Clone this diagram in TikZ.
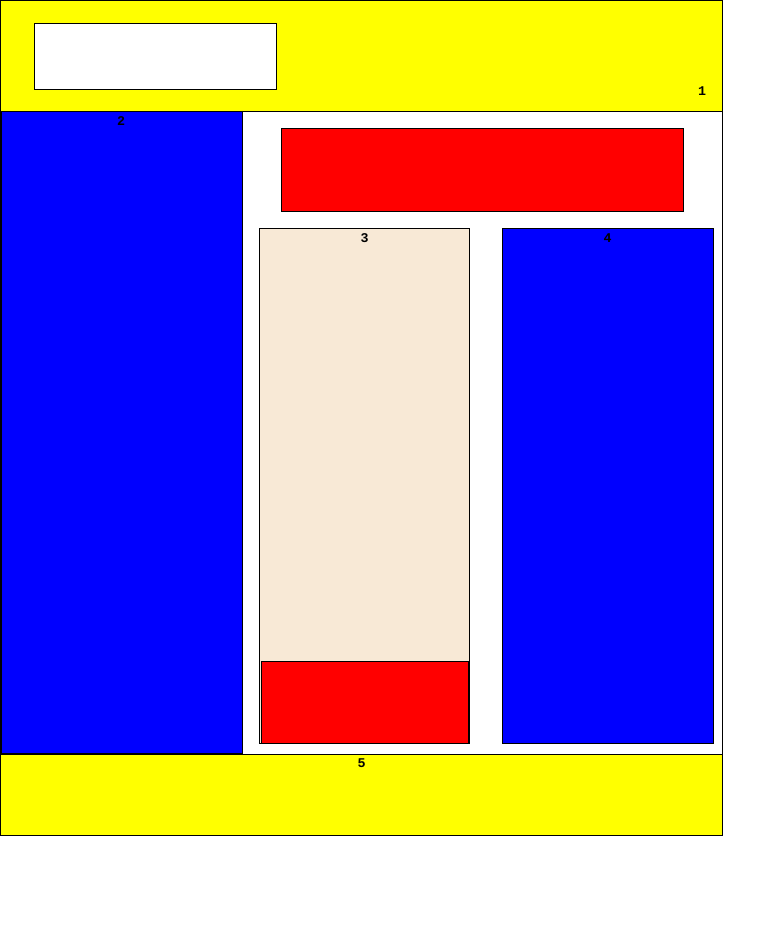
\documentclass[tikz,border=0pt]{standalone}
\usepackage{fontspec}
\newfontfamily\lblfont{Liberation Mono}
\definecolor{cyel}{RGB}{255,255,0}
\definecolor{cblue}{RGB}{0,0,255}
\definecolor{cred}{RGB}{255,0,0}
\definecolor{cbeige}{RGB}{248,233,214}
\begin{document}
\begin{tikzpicture}[x=0.75pt,y=-0.75pt,
  box/.style={draw=black,line width=0.75pt},
  lbl/.style={font=\lblfont\bfseries\fontsize{10}{11}\selectfont,inner sep=0pt,anchor=center}]
\useasboundingbox (0,0) rectangle (763,945);
\fill[white] (0,0) rectangle (763,945);
% main frame
\draw[box,fill=white] (0.5,0.5) rectangle (722,835);
% header
\draw[box,fill=cyel] (0.5,0.5) rectangle (722,112);
\draw[box,fill=white] (34,24) rectangle (276,90);
\node[lbl] (l1) at (702,91) {1};
% column 2
\draw[box,fill=cblue] (1.5,112) rectangle (242,753);
\node[lbl] (l2) at (121,121) {2};
% top red
\draw[box,fill=cred] (281,129) rectangle (683,211);
% box 3
\draw[box,fill=cbeige] (259,228) rectangle (469,743);
\node[lbl] (l3) at (364.5,238) {3};
\draw[box,fill=cred] (261,661) rectangle (468,743);
% box 4
\draw[box,fill=cblue] (502,228) rectangle (713,743);
\node[lbl] (l4) at (607.5,238) {4};
% footer
\draw[box,fill=cyel] (0.5,754) rectangle (722,835);
\node[lbl] (l5) at (361.5,763) {5};
\end{tikzpicture}
\end{document}
